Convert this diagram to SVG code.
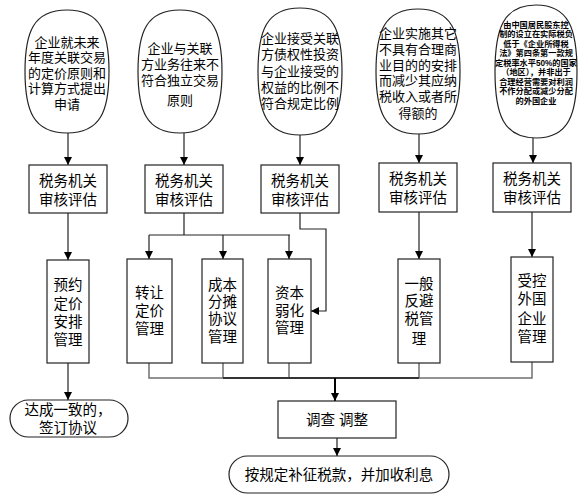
<svg xmlns="http://www.w3.org/2000/svg" width="581" height="503" viewBox="0 0 581 503">
<style>
.sh{fill:#fff;stroke:#222;stroke-width:1.2}
.ln{fill:none;stroke:#222;stroke-width:1.2}
.bus{fill:none;stroke:#707070;stroke-width:1.5}
.t{font-family:"Liberation Sans","Noto Sans CJK SC",sans-serif;font-size:13px;fill:#000;text-anchor:middle;dominant-baseline:central}
.m{font-size:14.5px}
.s{font-size:8.2px;font-weight:bold}
</style>
<defs>
<marker id="ah" markerUnits="userSpaceOnUse" markerWidth="8" markerHeight="8" refX="8" refY="4" orient="auto">
<path d="M0,0 L8,4 L0,8 Z" fill="#000"/>
</marker>
</defs>
<rect width="581" height="503" fill="#fff"/>

<g id="connectors">
<path class="ln" d="M68,133 V165" marker-end="url(#ah)"/>
<path class="ln" d="M184,133 V165" marker-end="url(#ah)"/>
<path class="ln" d="M300,135 V165" marker-end="url(#ah)"/>
<path class="ln" d="M419,134 V163" marker-end="url(#ah)"/>
<path class="ln" d="M533,138 V163" marker-end="url(#ah)"/>
<path class="ln" d="M68,213 V260" marker-end="url(#ah)"/>
<path class="ln" d="M184,213 V235 M149,235 H290"/>
<path class="ln" d="M149,235 V259" marker-end="url(#ah)"/>
<path class="ln" d="M223,235 V259" marker-end="url(#ah)"/>
<path class="ln" d="M289,235 V259" marker-end="url(#ah)"/>
<path class="ln" d="M300,213 V229 H326 V311 H311" marker-end="url(#ah)"/>
<path class="ln" d="M419,212 V259" marker-end="url(#ah)"/>
<path class="ln" d="M532,212 V257" marker-end="url(#ah)"/>
<path class="ln" d="M68,363 V400" marker-end="url(#ah)"/>
<path class="bus" d="M149,363 V378 H532 V362 M223,363 V378 M289,363 V378 M419,363 V378"/>
<path fill="none" stroke="#333" stroke-width="2" d="M223,378 H419"/>
<path fill="none" stroke="#000" stroke-width="2" d="M335,378 V401" marker-end="url(#ah)"/>
<path class="ln" d="M337,438 V456" marker-end="url(#ah)"/>
</g>

<g id="n1">
<path class="sh" d="M67,10 C100.6,10 109,32.1 109,71.5 C109,110.9 100.6,133 67,133 C33.4,133 25,110.9 25,71.5 C25,32.1 33.4,10 67,10Z"/>
<text class="t" x="67" y="42">企业就未来</text>
<text class="t" x="67" y="57.5">年度关联交易</text>
<text class="t" x="67" y="73">的定价原则和</text>
<text class="t" x="67" y="88.5">计算方式提出</text>
<text class="t" x="67" y="104">申请</text>
</g>
<g id="n2">
<path class="sh" d="M180,10 C213.6,10 222,32.1 222,71.5 C222,110.9 213.6,133 180,133 C146.4,133 138,110.9 138,71.5 C138,32.1 146.4,10 180,10Z"/>
<text class="t" x="180" y="48">企业与关联</text>
<text class="t" x="180" y="64">方业务往来不</text>
<text class="t" x="180" y="80">符合独立交易</text>
<text class="t" x="180" y="100">原则</text>
</g>
<g id="n3">
<path class="sh" d="M300,8 C333.6,8 342,30.9 342,71.5 C342,112.1 333.6,135 300,135 C266.4,135 258,112.1 258,71.5 C258,30.9 266.4,8 300,8Z"/>
<text class="t" x="300" y="38">企业接受关联</text>
<text class="t" x="300" y="54.5">方债权性投资</text>
<text class="t" x="300" y="71">与企业接受的</text>
<text class="t" x="300" y="87">权益的比例不</text>
<text class="t" x="300" y="103">符合规定比例</text>
</g>
<g id="n4">
<path class="sh" d="M418,9 C451.6,9 460,31.5 460,71.5 C460,111.5 451.6,134 418,134 C384.4,134 376,111.5 376,71.5 C376,31.5 384.4,9 418,9Z"/>
<text class="t" x="418" y="33">企业实施其它</text>
<text class="t" x="418" y="49">不具有合理商</text>
<text class="t" x="418" y="65">业目的的安排</text>
<text class="t" x="418" y="80.5">而减少其应纳</text>
<text class="t" x="418" y="96">税收入或者所</text>
<text class="t" x="418" y="113">得额的</text>
</g>
<g id="n5">
<path class="sh" d="M536,5 C568.8,5 577,28.9 577,71.5 C577,114.1 568.8,138 536,138 C503.2,138 495,114.1 495,71.5 C495,28.9 503.2,5 536,5Z"/>
<text class="t s" x="536" y="25">由中国居民股东控</text>
<text class="t s" x="536" y="34.5">制的设立在实际税负</text>
<text class="t s" x="536" y="44">低于《企业所得税</text>
<text class="t s" x="536" y="53.5">法》第四条第一款规</text>
<text class="t s" x="536" y="63">定税率水平50%的国家</text>
<text class="t s" x="536" y="72.5">（地区），并非出于</text>
<text class="t s" x="536" y="82">合理经营需要对利润</text>
<text class="t s" x="536" y="91.5">不作分配或减少分配</text>
<text class="t s" x="536" y="101">的外国企业</text>
</g>

<g id="b1"><rect class="sh" x="29" y="165" width="78" height="48"/><text class="t m" x="68" y="181">税务机关</text><text class="t m" x="68" y="200">审核评估</text></g>
<g id="b2"><rect class="sh" x="145" y="165" width="78" height="48"/><text class="t m" x="184" y="181">税务机关</text><text class="t m" x="184" y="200">审核评估</text></g>
<g id="b3"><rect class="sh" x="261" y="165" width="78" height="48"/><text class="t m" x="300" y="181">税务机关</text><text class="t m" x="300" y="200">审核评估</text></g>
<g id="b4"><rect class="sh" x="379" y="163" width="78" height="49"/><text class="t m" x="418" y="179">税务机关</text><text class="t m" x="418" y="198">审核评估</text></g>
<g id="b5"><rect class="sh" x="493" y="163" width="78" height="49"/><text class="t m" x="532" y="179">税务机关</text><text class="t m" x="532" y="198">审核评估</text></g>

<g id="c1"><rect class="sh" x="47" y="260" width="42" height="103"/>
<text class="t m" x="68" y="285">预约</text><text class="t m" x="68" y="304">定价</text><text class="t m" x="68" y="322">安排</text><text class="t m" x="68" y="340">管理</text></g>
<g id="c2"><rect class="sh" x="127" y="259" width="45" height="104"/>
<text class="t m" x="149.5" y="293">转让</text><text class="t m" x="149.5" y="311">定价</text><text class="t m" x="149.5" y="329">管理</text></g>
<g id="c3"><rect class="sh" x="202" y="259" width="41" height="104"/>
<text class="t m" x="222.5" y="285">成本</text><text class="t m" x="222.5" y="302">分摊</text><text class="t m" x="222.5" y="319">协议</text><text class="t m" x="222.5" y="337">管理</text></g>
<g id="c4"><rect class="sh" x="268" y="259" width="43" height="104"/>
<text class="t m" x="289.5" y="293">资本</text><text class="t m" x="289.5" y="311">弱化</text><text class="t m" x="289.5" y="328">管理</text></g>
<g id="c5"><rect class="sh" x="398" y="259" width="42" height="104"/>
<text class="t m" x="419" y="284">一般</text><text class="t m" x="419" y="301">反避</text><text class="t m" x="419" y="319">税管</text><text class="t m" x="419" y="339">理</text></g>
<g id="c6"><rect class="sh" x="511" y="257" width="42" height="105"/>
<text class="t m" x="532" y="281">受控</text><text class="t m" x="532" y="299">外国</text><text class="t m" x="532" y="319">企业</text><text class="t m" x="532" y="337">管理</text></g>

<g id="d1"><rect class="sh" x="10" y="400" width="118" height="37" rx="18.5"/>
<text class="t m" x="68" y="410">达成一致的，</text><text class="t m" x="68" y="428">签订协议</text></g>
<g id="d2"><rect class="sh" x="278" y="401" width="118" height="37"/>
<text class="t m" x="337" y="420">调查 调整</text></g>
<g id="d3"><rect class="sh" x="229" y="456" width="220" height="37" rx="18.5"/>
<text class="t m" x="339" y="474.5">按规定补征税款，并加收利息</text></g>
</svg>
